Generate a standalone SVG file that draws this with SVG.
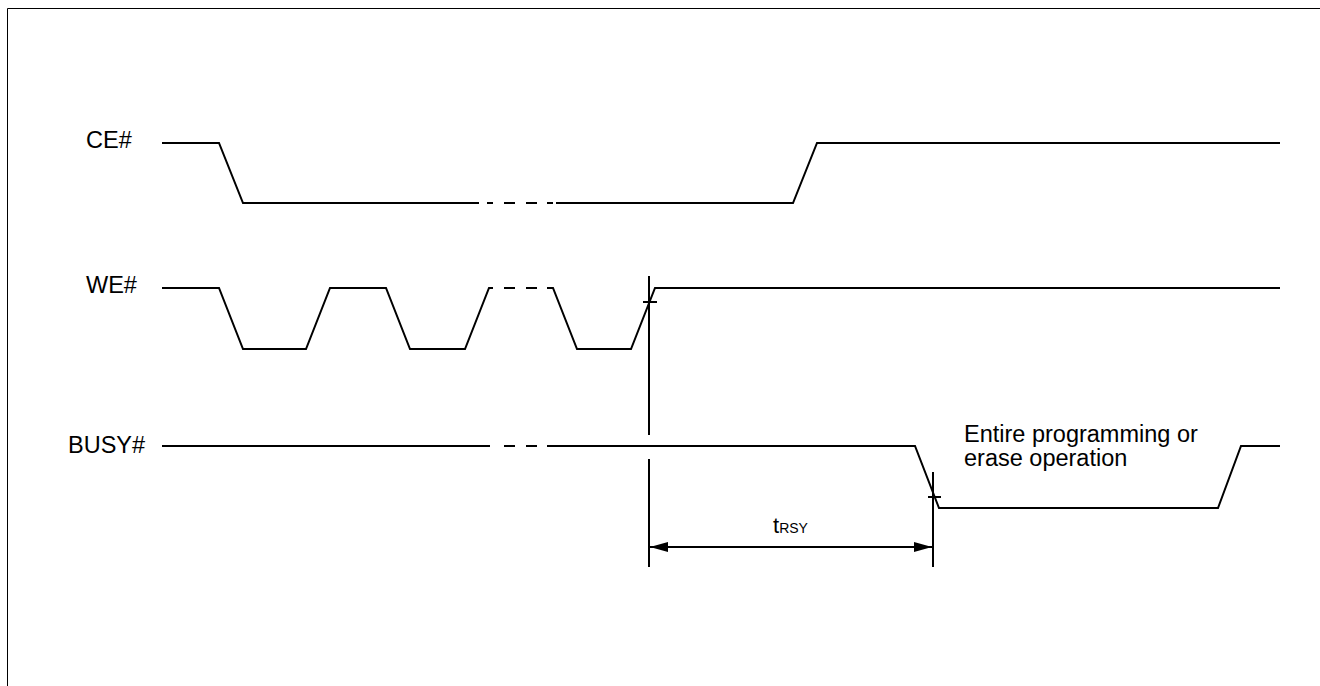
<svg xmlns="http://www.w3.org/2000/svg" width="1320" height="686" viewBox="0 0 1320 686">
<defs>
<style>
.sig{fill:none;stroke:#000;stroke-width:2;stroke-linejoin:miter}
.dim{fill:none;stroke:#000;stroke-width:2}
.frame{fill:none;stroke:#000;stroke-width:1}
.lbl{font-family:"Liberation Sans",Arial,sans-serif;font-size:23.5px;fill:#000}
</style>
<marker id="ah" viewBox="0 0 18 10" refX="18" refY="5" markerWidth="18" markerHeight="10" markerUnits="userSpaceOnUse" orient="auto-start-reverse">
<path d="M0,0 L18,5 L0,10 Z" fill="#000"/>
</marker>
</defs>
<rect width="1320" height="686" fill="#fff"/>
<path class="frame" d="M7.5,686 V8.5 H1320"/>

<g id="ce">
<text class="lbl" x="86" y="148">CE#</text>
<polyline class="sig" points="162,143 219,143 243,203 479,203"/>
<path class="sig" d="M487,203 H493 M504,203 H515 M526,203 H537 M547,203 H553"/>
<polyline class="sig" points="556,203 793,203 817,143 1280,143"/>
</g>

<g id="we">
<text class="lbl" x="86" y="293">WE#</text>
<polyline class="sig" points="162,288 219,288 243,349 306,349 330,288 386,288 410,349 465,349 489,288 493,288"/>
<path class="sig" d="M504,288 H515 M526,288 H537"/>
<polyline class="sig" points="547,288 553,288 577,349 631,349 655,288 1280,288"/>
</g>

<g id="busy">
<text class="lbl" x="68" y="453">BUSY#</text>
<polyline class="sig" points="162,446 490,446"/>
<path class="sig" d="M504,446 H515 M526,446 H537"/>
<polyline class="sig" points="547,446 915,446 939,508 1218,508 1241,446 1280,446"/>
</g>

<g id="note">
<text class="lbl" x="964" y="442">Entire programming or</text>
<text class="lbl" x="964" y="466">erase operation</text>
</g>

<g id="connectors">
<path class="dim" d="M649,276 V435 M649,459 V567 M933,472 V567"/>
<path class="dim" d="M643,302 H657 M928,497 H941"/>
<line class="dim" x1="650" y1="547" x2="932" y2="547" marker-start="url(#ah)" marker-end="url(#ah)"/>
<text x="773" y="533" font-family="'Liberation Sans',Arial,sans-serif" fill="#000"><tspan font-size="22">t</tspan><tspan font-size="14">RSY</tspan></text>
</g>
</svg>
